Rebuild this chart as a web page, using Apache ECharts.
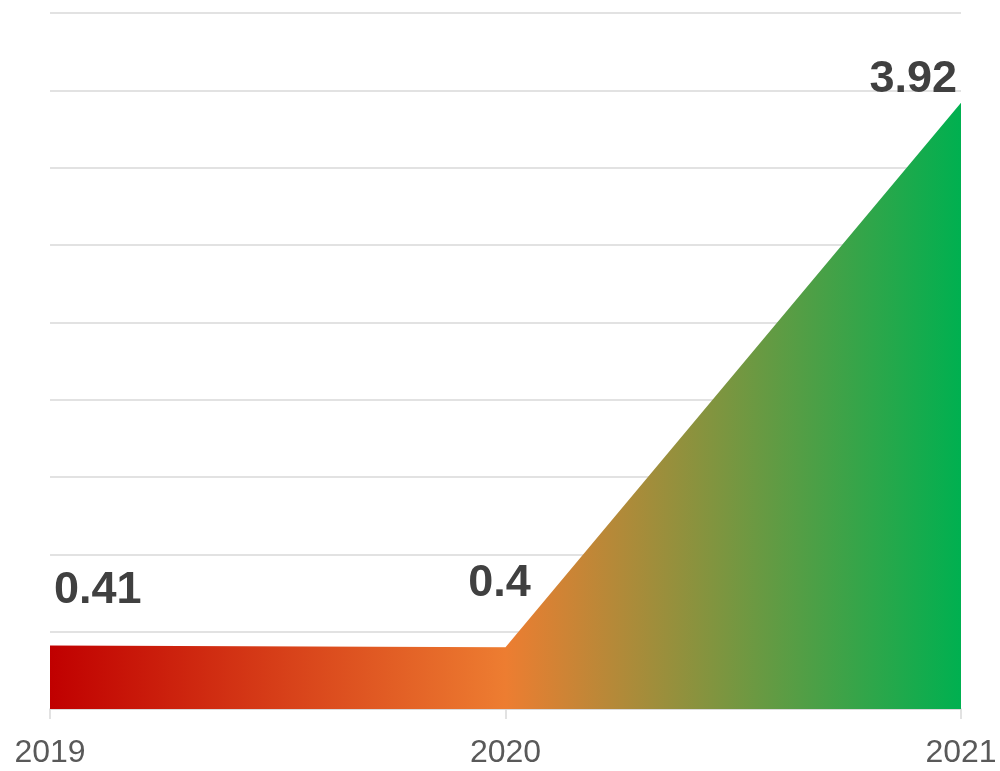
<!DOCTYPE html>
<html>
<head>
<meta charset="utf-8">
<script src="https://cdn.jsdelivr.net/npm/echarts@6/dist/echarts.min.js"></script>
<style>
  html, body { margin: 0; padding: 0; background: #ffffff; overflow: hidden; }
  #chart { width: 1000px; height: 771px; }
</style>
</head>
<body>
<div id="chart"></div>
<script>
// Yearly values
const years = ['2019', '2020', '2021'];
const values = [0.41, 0.4, 3.92];

// Label placement per point: first hugs the left edge, last the right edge
const labelAlign = ['left', 'center', 'right'];
const labelOffset = [[4, -22], [-6, -31], [-4, 9]];

const textFont = '"Liberation Sans Narrow", "Liberation Sans", Arial, sans-serif';

const chart = echarts.init(document.getElementById('chart'), null, { renderer: 'canvas' });

const seriesData = values.map((v, i) => ({
  value: v,
  label: {
    align: labelAlign[i],
    offset: labelOffset[i]
  }
}));

chart.setOption({
  animation: false,
  backgroundColor: '#ffffff',
  grid: { left: 50, right: 39, top: 13, bottom: 62, containLabel: false, outerBoundsMode: 'none' },
  xAxis: {
    type: 'category',
    data: years,
    boundaryGap: false,
    axisLine: { show: true, lineStyle: { color: '#d9d9d9', width: 1.5 } },
    axisTick: { show: true, alignWithLabel: true, length: 10, lineStyle: { color: '#d9d9d9', width: 1.5 } },
    axisLabel: {
      color: '#595959',
      fontFamily: textFont,
      fontSize: 32,
      margin: 28
    },
    splitLine: { show: false }
  },
  yAxis: {
    type: 'value',
    min: 0,
    max: 4.5,
    interval: 0.5,
    axisLine: { show: false },
    axisTick: { show: false },
    axisLabel: { show: false },
    splitLine: { show: true, lineStyle: { color: '#d9d9d9', width: 1.5 } }
  },
  series: [{
    type: 'line',
    data: seriesData,
    symbol: 'circle',
    symbolSize: 0,
    showSymbol: true,
    lineStyle: { width: 0 },
    areaStyle: {
      opacity: 1,
      color: new echarts.graphic.LinearGradient(0, 0, 1, 0, [
        { offset: 0, color: '#c00000' },
        { offset: 0.5, color: '#ed7d31' },
        { offset: 1, color: '#00b050' }
      ])
    },
    label: {
      show: true,
      position: 'top',
      distance: 10,
      color: '#404040',
      fontFamily: textFont,
      fontWeight: 'bold',
      fontSize: 45
    }
  }]
});
</script>
</body>
</html>
